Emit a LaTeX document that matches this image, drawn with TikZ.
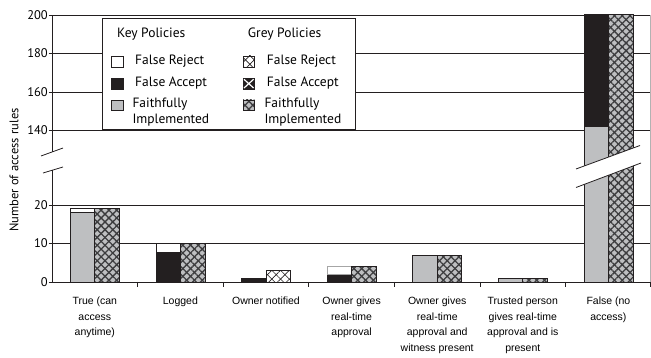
\documentclass[tikz,border=0pt]{standalone}
\usepackage{fontspec}
\setmainfont{Liberation Sans}
\newfontfamily\myr{PT Sans}
\usetikzlibrary{patterns.meta}
\definecolor{barg}{RGB}{190,191,193}
\definecolor{barb}{RGB}{35,31,32}
\definecolor{hatchd}{RGB}{60,60,62}
\begin{document}
\begin{tikzpicture}[x=1pt,y=-1pt,
  declare function={ly(\v)=282-3.85*\v; uy(\v)=130-1.925*(\v-140);},
  grid/.style={draw=barb, line width=0.8pt},
  outl/.style={draw=barb, line width=0.7pt},
  kfi/.style={outl, fill=barg},
  kfa/.style={outl, fill=barb},
  kfr/.style={outl, fill=white},
  gfi/.style={preaction={fill=barg},
    preaction={pattern={Lines[angle=45,distance=5.5pt,line width=1.3pt]}, pattern color=hatchd},
    preaction={pattern={Lines[angle=-45,distance=5.5pt,line width=1.3pt]}, pattern color=hatchd},
    outl},
  gfr/.style={preaction={fill=white},
    preaction={pattern={Lines[angle=45,distance=6.2pt,line width=0.6pt]}, pattern color=barb},
    preaction={pattern={Lines[angle=-45,distance=6.2pt,line width=0.6pt]}, pattern color=barb},
    outl},
  ticklab/.style={anchor=east, inner sep=0, font=\myr\fontsize{12.5}{14}\selectfont},
  leg/.style={anchor=base west, inner sep=0, font=\myr\fontsize{13.5}{16.7}\selectfont, align=left},
  cat/.style={anchor=north, inner sep=0, align=center, font=\fontsize{10.5}{15.7}\selectfont}
]
\useasboundingbox (0,0) rectangle (651,358);
% gridlines
\foreach \yy in {15.5,53.5,92,130,205,243.5}
  \draw[grid] (52,\yy) -- (651,\yy);
\draw[grid] (52,282) -- (651,282);
\draw[gray!60, line width=0.6pt] (650.5,15.5) -- (650.5,282);
% y axis
\draw[grid] (52,15.5) -- (52,152);
\draw[grid] (52,170) -- (52,282);
\draw[grid] (41,156) -- (63,148);
\draw[grid] (43,173) -- (63,167);
\foreach \yy in {15.5,53.5,92,130,205,243.5,282}
  \draw[grid] (48.5,\yy) -- (52,\yy);
\foreach \k in {1,...,6}
  \draw[grid] ({52+85.6*\k},282) -- ({52+85.6*\k},287);
\draw[grid] (650.5,282) -- (650.5,287);
% tick labels
\node[ticklab] (t200) at (48,15.5) {200};
\node[ticklab] (t180) at (48,53.5) {180};
\node[ticklab] (t160) at (48,92) {160};
\node[ticklab] (t140) at (48,130) {140};
\node[ticklab] (t20) at (48,205) {20};
\node[ticklab] (t10) at (48,243.5) {10};
\node[ticklab] (t0) at (48,282) {0};
\node[rotate=90, inner sep=0, font=\myr\fontsize{12.5}{14}\selectfont] (ylab) at (14,170) {Number of access rules};
% bars
% cat 1
\path[kfi] (70.3,{ly(0)}) rectangle (94.8,{ly(18)});
\path[kfr] (70.3,{ly(18)}) rectangle (94.8,{ly(19)});
\path[gfi] (94.8,{ly(0)}) rectangle (119.3,{ly(19)});
% cat 2
\path[kfa] (155.9,{ly(0)}) rectangle (180.4,{ly(7.6)});
\path[kfr] (155.9,{ly(7.6)}) rectangle (180.4,{ly(10)});
\path[gfi] (180.4,{ly(0)}) rectangle (204.9,{ly(10)});
% cat 3
\path[kfa] (241.5,{ly(0)}) rectangle (266,{ly(1)});
\path[gfr] (266,{ly(0)}) rectangle (290.5,{ly(3)});
% cat 4
\path[kfa] (327.1,{ly(0)}) rectangle (351.6,{ly(2)});
\path[draw=gray!70, line width=0.6pt, fill=white] (327.1,{ly(2)}) rectangle (351.6,{ly(4.2)});
\path[gfi] (351.6,{ly(0)}) rectangle (376.1,{ly(4)});
% cat 5
\path[kfi] (412.7,{ly(0)}) rectangle (437.2,{ly(7)});
\path[gfi] (437.2,{ly(0)}) rectangle (461.7,{ly(7)});
% cat 6
\path[kfi] (498.3,{ly(0)}) rectangle (522.8,{ly(1)});
\path[gfi] (522.8,{ly(0)}) rectangle (547.3,{ly(1)});
% cat 7
\path[kfi] (583.9,282) rectangle (608.4,{uy(142)});
\path[kfa] (583.9,{uy(142)}) rectangle (608.4,{uy(200)});
\path[gfi] (608.4,282) rectangle (632.9,{uy(200)});
% break band
\fill[white] (576,169) -- (640,145.5) -- (641,163) -- (576,187.5) -- cycle;
\draw[grid] (576,169) -- (640,145.5);
\draw[grid] (576,187.5) -- (641,163);
% legend
\draw[fill=white, draw=barb, line width=0.8pt] (102.5,18) rectangle (355,129.5);
\node[leg] (lk) at (117,38) {Key Policies};
\node[leg] (lg) at (247.7,38) {Grey Policies};
\path[outl, fill=white] (111.7,56) rectangle (123.3,67.3);
\path[outl, fill=barb] (111.7,78.3) rectangle (123.3,89);
\path[outl, fill=barg] (111.7,100) rectangle (123.3,110.7);
\node[leg] (lk1) at (135,64.3) {False Reject};
\node[leg] (lk2) at (135,86.7) {False Accept};
\node[leg] (lk3) at (132.3,124) {Faithfully\\Implemented};
\path[gfr] (243,56) rectangle (254.6,67.3);
\path[outl, fill=barb] (243,78.3) rectangle (254.6,89);
\draw[white, line width=1.2pt] (244,79.3) -- (253.6,88) (244,88) -- (253.6,79.3);
\path[gfi] (243,100) rectangle (254.6,110.7);
\node[leg] (lg1) at (266.7,64.3) {False Reject};
\node[leg] (lg2) at (266.7,86.7) {False Accept};
\node[leg] (lg3) at (264.3,124) {Faithfully\\Implemented};
% category labels
\node[cat] (c1) at (94.8,296.5) {True (can\\access\\anytime)};
\node[cat] (c2) at (180.4,296.5) {Logged};
\node[cat] (c3) at (266,296.5) {Owner notified};
\node[cat] (c4) at (351.6,296.5) {Owner gives\\real-time\\approval};
\node[cat] (c5) at (437.2,296.5) {Owner gives\\real-time\\approval and\\witness present};
\node[cat] (c6) at (522.8,296.5) {Trusted person\\gives real-time\\approval and is\\present};
\node[cat] (c7) at (608.4,296.5) {False (no\\access)};
\end{tikzpicture}
\end{document}
